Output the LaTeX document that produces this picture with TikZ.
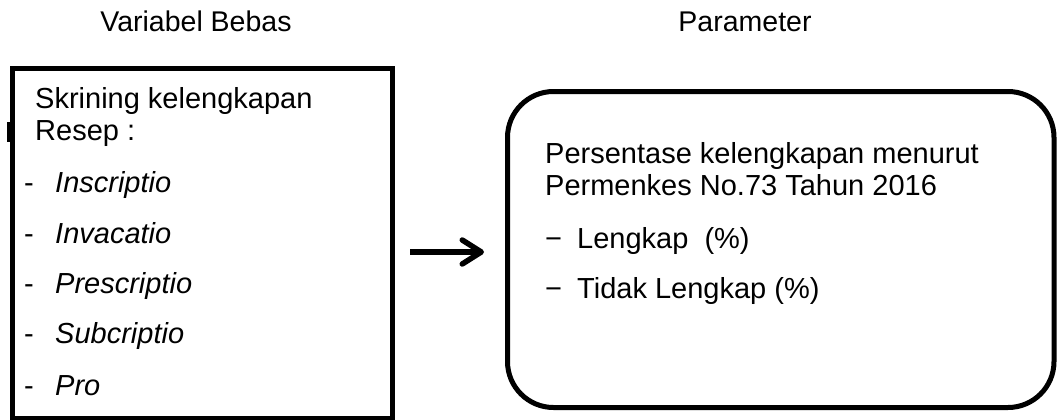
\documentclass[tikz,border=0pt]{standalone}
\usepackage{fontspec}
\setmainfont{Liberation Sans}
\usetikzlibrary{arrows.meta}
\begin{document}
\begin{tikzpicture}[x=1pt,y=-1pt,
  txt/.style={anchor=base west,inner sep=0pt,font=\fontsize{29}{33}\selectfont},
  ttl/.style={anchor=base,inner sep=0pt,font=\fontsize{28.5}{33}\selectfont},
  frame/.style={draw,line width=5pt,inner sep=0pt,outer sep=0pt},
  conn/.style={line width=5.5pt,-{Straight Barb[length=19pt,width=24pt,line cap=round,line join=round]}}]
\useasboundingbox (0,0) rectangle (1057,420);
% titles
\node[ttl] (t1) at (196,32) {Variabel Bebas};
\node[ttl] (t2) at (745,32) {Parameter};
% left box
\node[frame,minimum width=380.5pt,minimum height=349.3pt] (lbox) at (202.25,243.35) {};
\fill (6.7,122) rectangle (9.5,142);
\node[txt] (l1) at (35,108) {Skrining kelengkapan};
\node[txt] (l2) at (35,140) {Resep :};
\foreach \y/\w [count=\i] in {192/Inscriptio,243/Invacatio,293/Prescriptio,343/Subcriptio,395/Pro}{
  \node[txt] (d\i) at (24,\y) {-};
  \node[txt] (i\i) at (55,\y) {\itshape \w};
}
% right box
\node[frame,rounded corners=46pt,minimum width=546.5pt,minimum height=316pt] (rbox) at (780.75,249.5) {};
\node[txt] (r1) at (545,163) {Persentase kelengkapan menurut};
\node[txt] (r2) at (545,195) {Permenkes No.73 Tahun 2016};
\node[txt] (m1) at (545,248) {−};
\node[txt] (r3) at (577,248) {Lengkap\ \ (\%)};
\node[txt] (m2) at (545,298) {−};
\node[txt] (r4) at (577,298) {Tidak Lengkap (\%)};
% arrow
\coordinate (a1) at (410,252);
\coordinate (a2) at (484,252);
\draw[conn] (a1) -- (a2);
\end{tikzpicture}
\end{document}
